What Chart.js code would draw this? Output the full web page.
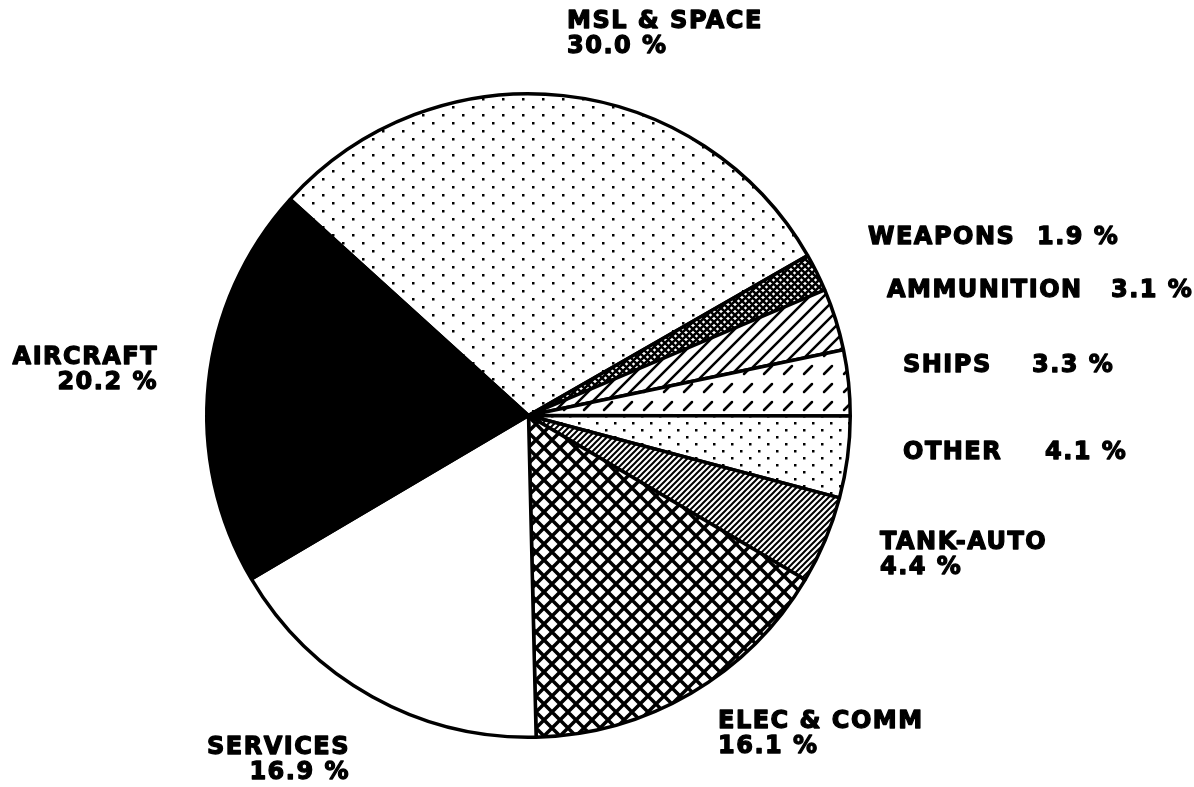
<!DOCTYPE html>
<html>
<head>
<meta charset="utf-8">
<script src="https://cdn.jsdelivr.net/npm/chart.js@4/dist/chart.umd.min.js"></script>
<style>
  html, body { margin: 0; padding: 0; background: #fff; }
  #pieChart { display: block; }
</style>
</head>
<body>
<canvas id="pieChart" width="1194" height="787"></canvas>
<script>
// categories and shares (percent), clockwise starting at MSL & SPACE
const categories = ["MSL & SPACE", "WEAPONS", "AMMUNITION", "SHIPS", "OTHER", "TANK-AUTO", "ELEC & COMM", "SERVICES", "AIRCRAFT"];
const shares = [30.0, 1.9, 3.1, 3.3, 4.1, 4.4, 16.1, 16.9, 20.2];
const shareLabels = shares.map((v) => v.toFixed(1) + " %");

// where each label goes (x, y of first line), "inline" = value on same line
const labelSpots = [
  { x: 567, y: 22, align: "left", mode: "stack" },
  { x: 868, y: 238, align: "left", mode: "inline", vx: 1037 },
  { x: 887, y: 291, align: "left", mode: "inline", vx: 1111 },
  { x: 903, y: 366, align: "left", mode: "inline", vx: 1032 },
  { x: 903, y: 453, align: "left", mode: "inline", vx: 1045 },
  { x: 880, y: 543, align: "left", mode: "stack" },
  { x: 718, y: 722, align: "left", mode: "stack" },
  { x: 350, y: 748, align: "right", mode: "stack" },
  { x: 158, y: 358, align: "right", mode: "stack" },
];

function tile(w, h, draw) {
  const c = document.createElement("canvas");
  c.width = w;
  c.height = h;
  const g = c.getContext("2d");
  g.fillStyle = "#fff";
  g.fillRect(0, 0, w, h);
  g.fillStyle = "#000";
  g.strokeStyle = "#000";
  draw(g, w, h);
  return document.createElement("canvas").getContext("2d").createPattern(c, "repeat");
}

function dots(w, h, r) {
  return tile(w, h, (g) => {
    g.fillRect(2, 2, r, r);
    g.fillRect(2 + w / 2, 2 + h / 2, r, r);
  });
}

function slashes(p, lw) {
  return tile(p, p, (g) => {
    g.lineWidth = lw;
    g.beginPath();
    g.moveTo(-2, p + 2); g.lineTo(p + 2, -2);
    g.moveTo(-2, 2); g.lineTo(2, -2);
    g.moveTo(p - 2, p + 2); g.lineTo(p + 2, p - 2);
    g.stroke();
  });
}

function cross(p, lw) {
  return tile(p, p, (g) => {
    g.lineWidth = lw;
    g.beginPath();
    g.moveTo(-2, p + 2); g.lineTo(p + 2, -2);
    g.moveTo(-2, 2); g.lineTo(2, -2);
    g.moveTo(p - 2, p + 2); g.lineTo(p + 2, p - 2);
    g.moveTo(-2, -2); g.lineTo(p + 2, p + 2);
    g.moveTo(-2, p - 2); g.lineTo(2, p + 2);
    g.moveTo(p - 2, -2); g.lineTo(p + 2, 2);
    g.stroke();
  });
}

function dashes() {
  return tile(20, 18, (g) => {
    g.lineWidth = 2.5;
    g.lineCap = "round";
    g.beginPath();
    g.moveTo(4, 14); g.lineTo(12, 6);
    g.stroke();
  });
}

const fills = [
  dots(20, 16, 2.5),   // MSL & SPACE
  cross(7, 2.6),       // WEAPONS
  slashes(14, 2.5),    // AMMUNITION
  dashes(),            // SHIPS
  dots(18, 14, 2.5),   // OTHER
  slashes(6, 2),       // TANK-AUTO
  cross(16, 3.5),      // ELEC & COMM
  "#ffffff",           // SERVICES
  "#000000",           // AIRCRAFT
];

function heavyText(ctx, txt, x, y) {
  ctx.fillText(txt, x, y);
  ctx.strokeText(txt, x, y);
}

const labelPlugin = {
  id: "sliceLabels",
  afterDraw(chart) {
    const ctx = chart.ctx;
    ctx.save();
    ctx.fillStyle = "#000";
    ctx.strokeStyle = "#000";
    ctx.lineWidth = 1.3;
    ctx.lineJoin = "round";
    ctx.font = "bold 24px 'DejaVu Sans'";
    ctx.letterSpacing = "1.5px";
    ctx.textBaseline = "middle";
    labelSpots.forEach((s, i) => {
      ctx.textAlign = s.align;
      if (s.mode === "inline") {
        ctx.textAlign = "left";
        heavyText(ctx, categories[i], s.x, s.y);
        heavyText(ctx, shareLabels[i], s.vx, s.y);
      } else {
        heavyText(ctx, categories[i], s.x, s.y);
        heavyText(ctx, shareLabels[i], s.x, s.y + 25);
      }
    });
    ctx.restore();
  },
};

const ctx = document.getElementById("pieChart").getContext("2d");
const myChart = new Chart(ctx, {
  type: "pie",
  data: {
    labels: categories,
    datasets: [
      {
        data: shares,
        backgroundColor: fills,
        borderColor: "#000",
        borderWidth: 3.5,
      },
    ],
  },
  options: {
    responsive: false,
    animation: false,
    rotation: -47.8,
    layout: { padding: { left: 204, right: 341, top: 92, bottom: 48 } },
    plugins: {
      legend: { display: false },
      tooltip: { enabled: false },
    },
  },
  plugins: [labelPlugin],
});
</script>
</body>
</html>
